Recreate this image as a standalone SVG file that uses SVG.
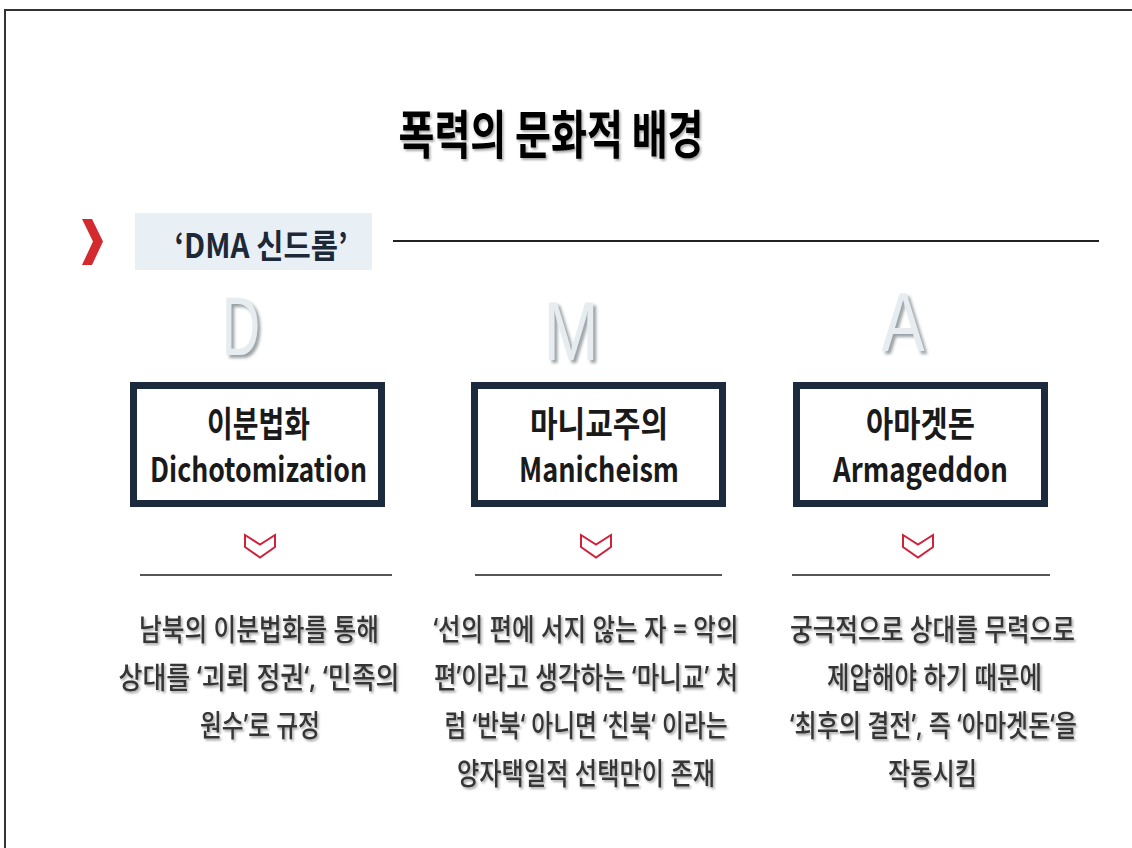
<svg xmlns="http://www.w3.org/2000/svg" width="1132" height="848" viewBox="0 0 1132 848">
  <defs>
    <filter id="sh" filterUnits="userSpaceOnUse" x="0" y="0" width="1132" height="848">
      <feDropShadow dx="1.5" dy="2" stdDeviation="1.2" flood-color="#000" flood-opacity="0.35"/>
    </filter>
    <filter id="shB" filterUnits="userSpaceOnUse" x="0" y="0" width="1132" height="848">
      <feDropShadow dx="1.5" dy="1.5" stdDeviation="1" flood-color="#000" flood-opacity="0.35"/>
    </filter>
    <filter id="shBig" filterUnits="userSpaceOnUse" x="0" y="0" width="1132" height="848">
      <feDropShadow dx="3" dy="3" stdDeviation="1.8" flood-color="#6f7a80" flood-opacity="0.7"/>
    </filter>
    <style>
      .kr { font-family: "Noto Sans CJK KR", "Noto Sans", sans-serif; text-anchor: middle; }
      .title { font-size: 52px; font-weight: 700; fill: #000; filter: url(#sh); }
      .tag { font-size: 33px; font-weight: 700; fill: #1d2838; }
      .big { font-family: "Liberation Sans", Arial, sans-serif; font-size: 84px; fill: #e6ecef; text-anchor: middle; filter: url(#shBig); }
      .box { fill: #fff; stroke: #1c2a3e; stroke-width: 7; }
      .bk { font-size: 35px; font-weight: 700; fill: #1a1a1a; }
      .be { font-size: 34px; font-weight: 700; fill: #1a1a1a; }
      .body { font-family: "Noto Sans", "Noto Sans CJK KR", sans-serif; text-anchor: middle; font-size: 23px; font-weight: 500; fill: #363636; filter: url(#shB); }
      .chev { fill: #fff; stroke: #d0223b; stroke-width: 2; stroke-linejoin: miter; }
      .sep { stroke: #555; stroke-width: 2; }
    </style>
  </defs>

  <rect width="1132" height="848" fill="#fff"/>
  <!-- frame -->
  <line x1="4" y1="10" x2="1132" y2="10" stroke="#333" stroke-width="2"/>
  <line x1="5" y1="9" x2="5" y2="848" stroke="#333" stroke-width="2"/>

  <g id="title">
    <text class="kr title" x="551" y="154" textLength="305" lengthAdjust="spacingAndGlyphs">폭력의 문화적 배경</text>
  </g>

  <g id="header">
    <polygon points="82,219 92,219 103,241.5 92,265 82,265 93,241.5" fill="#d42a2f"/>
    <rect x="135" y="213" width="237" height="57" fill="#e9f0f5"/>
    <text class="kr tag" x="261" y="258" textLength="173" lengthAdjust="spacingAndGlyphs">‘DMA 신드롬’</text>
    <line x1="393" y1="241" x2="1099" y2="241" stroke="#222" stroke-width="2"/>
  </g>

  <g id="node-d">
    <text class="big" x="241" y="355" textLength="38" lengthAdjust="spacingAndGlyphs">D</text>
    <rect class="box" x="133.5" y="385.5" width="248" height="118"/>
    <text class="kr bk" x="258.5" y="437" textLength="103" lengthAdjust="spacingAndGlyphs">이분법화</text>
    <text class="kr be" x="258.5" y="482" textLength="217" lengthAdjust="spacingAndGlyphs">Dichotomization</text>
  </g>

  <g id="node-m">
    <text class="big" x="571" y="360" textLength="55" lengthAdjust="spacingAndGlyphs">M</text>
    <rect class="box" x="474.5" y="385.5" width="248" height="118"/>
    <text class="kr bk" x="599" y="437" textLength="138" lengthAdjust="spacingAndGlyphs">마니교주의</text>
    <text class="kr be" x="599" y="482" textLength="160" lengthAdjust="spacingAndGlyphs">Manicheism</text>
  </g>

  <g id="node-a">
    <text class="big" x="903" y="351" textLength="43" lengthAdjust="spacingAndGlyphs">A</text>
    <rect class="box" x="796.5" y="385.5" width="248" height="118"/>
    <text class="kr bk" x="920.5" y="437" textLength="109" lengthAdjust="spacingAndGlyphs">아마겟돈</text>
    <text class="kr be" x="920.5" y="482" textLength="175" lengthAdjust="spacingAndGlyphs">Armageddon</text>
  </g>

  <g id="connectors">
    <polygon class="chev" points="245,535 260,544.5 275,535 275,547 260,557.5 245,547"/>
    <polygon class="chev" points="581,535 596,544.5 611,535 611,547 596,557.5 581,547"/>
    <polygon class="chev" points="903,535 918,544.5 933,535 933,547 918,557.5 903,547"/>
    <line class="sep" x1="140" y1="575" x2="392" y2="575"/>
    <line class="sep" x1="475" y1="575" x2="722" y2="575"/>
    <line class="sep" x1="792" y1="575" x2="1050" y2="575"/>
  </g>

  <g id="text-d" transform="scale(1,1.3)">
    <text class="body" x="259" y="492.3" textLength="240" lengthAdjust="spacingAndGlyphs">남북의 이분법화를 통해</text>
    <text class="body" x="259" y="529.2" textLength="281" lengthAdjust="spacingAndGlyphs">상대를  ‘괴뢰 정권‘,  ‘민족의</text>
    <text class="body" x="260" y="566.2" textLength="120" lengthAdjust="spacingAndGlyphs">원수’로 규정</text>
  </g>

  <g id="text-m" transform="scale(1,1.3)">
    <text class="body" x="586" y="492.3" textLength="305" lengthAdjust="spacingAndGlyphs">‘선의 편에 서지 않는 자 = 악의</text>
    <text class="body" x="586" y="529.2" textLength="304" lengthAdjust="spacingAndGlyphs">편’이라고 생각하는 ‘마니교’ 처</text>
    <text class="body" x="586" y="566.2" textLength="283" lengthAdjust="spacingAndGlyphs">럼 ‘반북‘ 아니면 ‘친북‘ 이라는</text>
    <text class="body" x="586" y="603.1" textLength="258" lengthAdjust="spacingAndGlyphs">양자택일적 선택만이 존재</text>
  </g>

  <g id="text-a" transform="scale(1,1.3)">
    <text class="body" x="932.5" y="492.3" textLength="285" lengthAdjust="spacingAndGlyphs">궁극적으로 상대를 무력으로</text>
    <text class="body" x="934.5" y="529.2" textLength="215" lengthAdjust="spacingAndGlyphs">제압해야 하기 때문에</text>
    <text class="body" x="933.5" y="566.2" textLength="287" lengthAdjust="spacingAndGlyphs">‘최후의 결전’, 즉 ‘아마겟돈‘을</text>
    <text class="body" x="932.5" y="603.1" textLength="89" lengthAdjust="spacingAndGlyphs">작동시킴</text>
  </g>
</svg>
